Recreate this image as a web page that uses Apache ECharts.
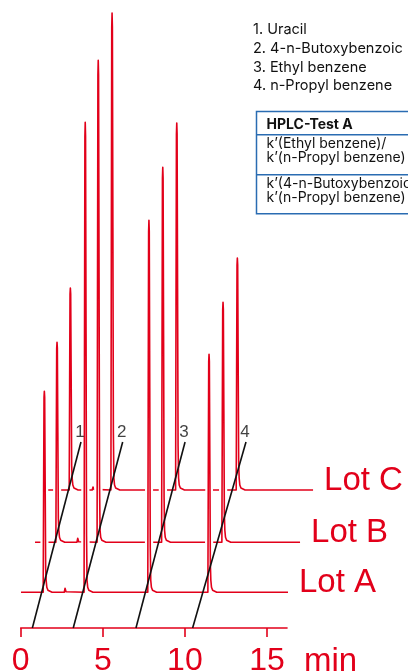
<!DOCTYPE html>
<html>
<head>
<meta charset="utf-8">
<script src="https://cdn.jsdelivr.net/npm/echarts@6/dist/echarts.min.js"></script>
<style>
  html, body { margin: 0; padding: 0; background: #ffffff; }
  #chart { width: 408px; height: 672px; }
</style>
</head>
<body>
<div id="chart"></div>
<script>
// ---- data ---------------------------------------------------------------
const lotNames = ['Lot A', 'Lot B', 'Lot C'];
const compoundList = ['1. Uracil', '2. 4-n-Butoxybenzoic', '3. Ethyl benzene', '4. n-Propyl benzene'];
const timeTicks = [0, 5, 10, 15];

// retention time (min) of peaks 1-4 for each lot
const retentionLotA = [1.44, 3.93, 7.81, 11.47];
const retentionLotB = [1.39, 3.90, 7.83, 11.50];
const retentionLotC = [1.38, 3.92, 7.86, 11.55];

// peak heights (mAU)
const heightLotA = [201, 470, 372, 238];
const heightLotB = [200, 482, 375, 240];
const heightLotC = [202, 477, 367, 232];

// small system peak between peaks 1 and 2
const minorPeakTime = [2.70, 2.65, 2.76];
const minorPeakHeight = [4, 4, 3];

// recorded run window (min)
const runStart = [0.02, 0.05, 0.02];
const runEnd = [16.28, 16.19, 16.16];

// peak identification lines: foot on the time axis, head at the number (min / mAU)
const markerFoot = [0.71, 3.20, 7.02, 10.47];
const markerHead = [3.67, 6.21, 10.01, 13.72];
const markerRise = [186, 186, 186, 186];
const markerText = ['1', '2', '3', '4'];

const tableHeader = 'HPLC-Test A';
const tableRows = [
  'k\u2019(Ethyl benzene)/\nk\u2019(n-Propyl benzene)',
  'k\u2019(4-n-Butoxybenzoic\nk\u2019(n-Propyl benzene)'
];

// ---- layout -------------------------------------------------------------
const RED = '#e2001a';
const BLUE = '#2a6cb2';
const INK = '#111111';
const FONT = '"Liberation Sans", Arial, Helvetica, sans-serif';
const SMALL_FONT = 'Inter, "Liberation Sans", Arial, sans-serif';
const PX_PER_MIN = 16.42;
const AXIS_LEFT = 20.7;
const AXIS_Y = 628;
const AXIS_MAX = 16.22;
const LOT_MAX_T = 16.3;
const LOT_H = 490;                       // signal range shown per trace
const lotLeft = [20.7, 34.2, 47.7];      // each trace stepped right ...
const lotBase = [592.3, 542.3, 490];     // ... and up for the 3-D stack

const retention = [retentionLotA, retentionLotB, retentionLotC];
const heights = [heightLotA, heightLotB, heightLotC];

// Build one chromatogram trace: sharp peaks with a short tailing foot.
function buildTrace(i) {
  const events = retention[i].map((t, k) => ({ t: t, h: heights[i][k], main: true }));
  events.push({ t: minorPeakTime[i], h: minorPeakHeight[i], main: false });
  events.sort((a, b) => a.t - b.t);
  const pts = [[runStart[i], 0]];
  events.forEach(e => {
    const t = e.t, h = e.h;
    if (e.main) {
      pts.push([t - 0.07, 0], [t - 0.045, h * 0.5], [t - 0.02, h * 0.97], [t, h],
               [t + 0.02, h * 0.97], [t + 0.05, h * 0.55], [t + 0.08, h * 0.12],
               [t + 0.11, 12], [t + 0.15, 5], [t + 0.22, 2], [t + 0.32, 0.7], [t + 0.47, 0]);
    } else {
      pts.push([t - 0.05, 0], [t, h], [t + 0.06, 0.6], [t + 0.12, 0]);
    }
  });
  pts.push([runEnd[i], 0]);
  return pts;
}

const grids = [{
  left: AXIS_LEFT, top: 0, width: AXIS_MAX * PX_PER_MIN, height: AXIS_Y,
  outerBoundsMode: 'none', containLabel: false
}];
const xAxes = [{
  gridIndex: 0, type: 'value', min: 0, max: AXIS_MAX, interval: 5,
  axisLine: { show: true, onZero: false, lineStyle: { color: RED, width: 1.6 } },
  axisTick: { show: true, length: 9, customValues: timeTicks, lineStyle: { color: RED, width: 1.6 } },
  axisLabel: {
    customValues: timeTicks, color: RED, fontSize: 32, fontFamily: FONT, margin: 17,
    formatter: v => (timeTicks.indexOf(v) >= 0 ? String(v) : '')
  },
  splitLine: { show: false },
  name: 'min', nameLocation: 'end', nameGap: 17,
  nameTextStyle: { color: RED, fontSize: 33, fontFamily: FONT, verticalAlign: 'top', align: 'left', padding: [17, 0, 0, 0] }
}];
const yAxes = [{ gridIndex: 0, type: 'value', min: 0, max: AXIS_Y, show: false }];

lotNames.forEach((name, i) => {
  grids.push({
    left: lotLeft[i], top: lotBase[i] - LOT_H, width: LOT_MAX_T * PX_PER_MIN, height: LOT_H,
    outerBoundsMode: 'none', containLabel: false
  });
  xAxes.push({ gridIndex: i + 1, type: 'value', min: 0, max: LOT_MAX_T, show: false });
  yAxes.push({ gridIndex: i + 1, type: 'value', min: 0, max: LOT_H, show: false });
});

const series = [];
// back to front: Lot C, Lot B, Lot A; front traces get a white halo
[2, 1, 0].forEach((i, order) => {
  const data = buildTrace(i);
  if (i < 2) {
    series.push({
      type: 'line', name: lotNames[i] + ' halo', xAxisIndex: i + 1, yAxisIndex: i + 1,
      data: data, showSymbol: false, symbol: 'none', silent: true, clip: false,
      lineStyle: { color: '#ffffff', width: 6 }, z: 2 + order * 2
    });
  }
  series.push({
    type: 'line', name: lotNames[i], xAxisIndex: i + 1, yAxisIndex: i + 1,
    data: data, showSymbol: false, symbol: 'none', clip: false,
    lineStyle: { color: RED, width: 1.6, join: 'round' }, z: 3 + order * 2,
    endLabel: {
      show: true, formatter: lotNames[i], color: RED, fontSize: 33, fontFamily: FONT,
      distance: 11, offset: [0, -9]
    }
  });
});

markerFoot.forEach((foot, k) => {
  series.push({
    type: 'line', name: 'peak ' + markerText[k], xAxisIndex: 0, yAxisIndex: 0,
    data: [[foot, 0], [markerHead[k], markerRise[k]]], showSymbol: false, symbol: 'none',
    clip: false, lineStyle: { color: INK, width: 1.6 }, z: 10
  });
});
series.push({
  type: 'scatter', name: 'peak numbers', xAxisIndex: 0, yAxisIndex: 0, clip: false,
  symbolSize: 1, itemStyle: { color: 'transparent' }, z: 11,
  data: markerHead.map((t, k) => [t, markerRise[k], markerText[k]]),
  label: {
    show: true, position: 'top', distance: 1, offset: [-1, 0],
    formatter: p => p.value[2], color: INK, fontSize: 17, fontFamily: FONT
  }
});

// compound list and test table, top right
const graphic = [
  {
    type: 'text', left: 253, top: 20.5,
    style: { text: compoundList.join('\n'), fill: INK, font: '14.5px ' + SMALL_FONT, lineHeight: 18.7 }
  },
  {
    type: 'group', left: 254, top: 109, children: [
      { type: 'rect', shape: { x: 0, y: 0, width: 170, height: 102.3 }, style: { fill: 'none', stroke: BLUE, lineWidth: 1.5 } },
      { type: 'line', shape: { x1: 0, y1: 23.3, x2: 170, y2: 23.3 }, style: { stroke: BLUE, lineWidth: 1.5 } },
      { type: 'line', shape: { x1: 0, y1: 63.3, x2: 170, y2: 63.3 }, style: { stroke: BLUE, lineWidth: 1.5 } },
      { type: 'text', x: 10, y: 6.5, style: { text: tableHeader, fill: INK, font: 'bold 14px ' + SMALL_FONT } },
      { type: 'text', x: 10, y: 26, style: { text: tableRows[0], fill: INK, font: '14px ' + SMALL_FONT, lineHeight: 13.4 } },
      { type: 'text', x: 10, y: 66, style: { text: tableRows[1], fill: INK, font: '14px ' + SMALL_FONT, lineHeight: 13.4 } }
    ]
  }
];

const chart = echarts.init(document.getElementById('chart'), null, { renderer: 'canvas' });
chart.setOption({
  animation: false,
  backgroundColor: '#ffffff',
  grid: grids,
  xAxis: xAxes,
  yAxis: yAxes,
  series: series,
  graphic: graphic
});
</script>
</body>
</html>
